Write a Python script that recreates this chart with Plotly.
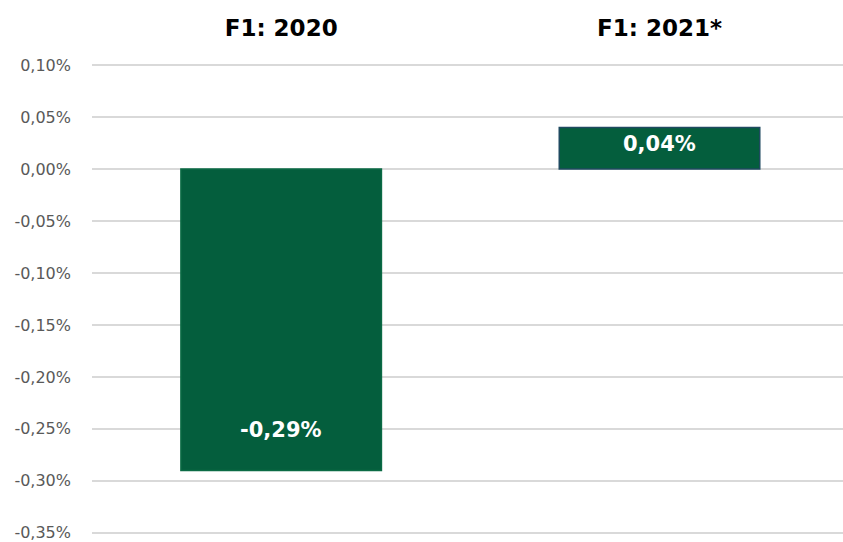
import plotly.graph_objects as go

categories = ["F1: 2020", "F1: 2021*"]
values = [-0.29, 0.04]
labels = ["-0,29%", "0,04%"]
tick_vals = [0.10, 0.05, 0.00, -0.05, -0.10, -0.15, -0.20, -0.25, -0.30, -0.35]
tick_text = ["0,10%", "0,05%", "0,00%", "-0,05%", "-0,10%", "-0,15%", "-0,20%", "-0,25%", "-0,30%", "-0,35%"]

label_shift = [40, -16]
border_colors = ["#0B6B45", "#1F4A60"]

fig = go.Figure()
fig.add_trace(go.Bar(
    x=categories, y=values, width=0.53,
    marker=dict(color="#045E3D", line=dict(color=border_colors, width=1.5)),
    hoverinfo="skip",
))
for c, v, t, s in zip(categories, values, labels, label_shift):
    fig.add_annotation(x=c, y=v, text=t, showarrow=False, yshift=s,
                       font=dict(family="Verdana, DejaVu Sans", size=21, color="white", weight="bold"))

fig.update_layout(
    width=843, height=542,
    margin=dict(l=92, r=0, t=60, b=1),
    paper_bgcolor="white", plot_bgcolor="white",
    showlegend=False,
    xaxis=dict(side="top", range=[-0.5, 1.485], showgrid=False, zeroline=False, showline=False,
               ticks="", ticklabelstandoff=18,
               tickfont=dict(family="Verdana, DejaVu Sans", size=23, color="black", weight="bold")),
    yaxis=dict(range=[-0.355, 0.105], tickmode="array", tickvals=tick_vals, ticktext=tick_text,
               showgrid=True, gridcolor="#D9D9D9", gridwidth=1.5,
               zeroline=True, zerolinecolor="#D9D9D9", zerolinewidth=1.5,
               ticks="", ticklabelstandoff=20, ticklabeloverflow="allow",
               tickfont=dict(family="Verdana, DejaVu Sans", size=16, color="#595959")),
)
fig.write_html("out.html")
